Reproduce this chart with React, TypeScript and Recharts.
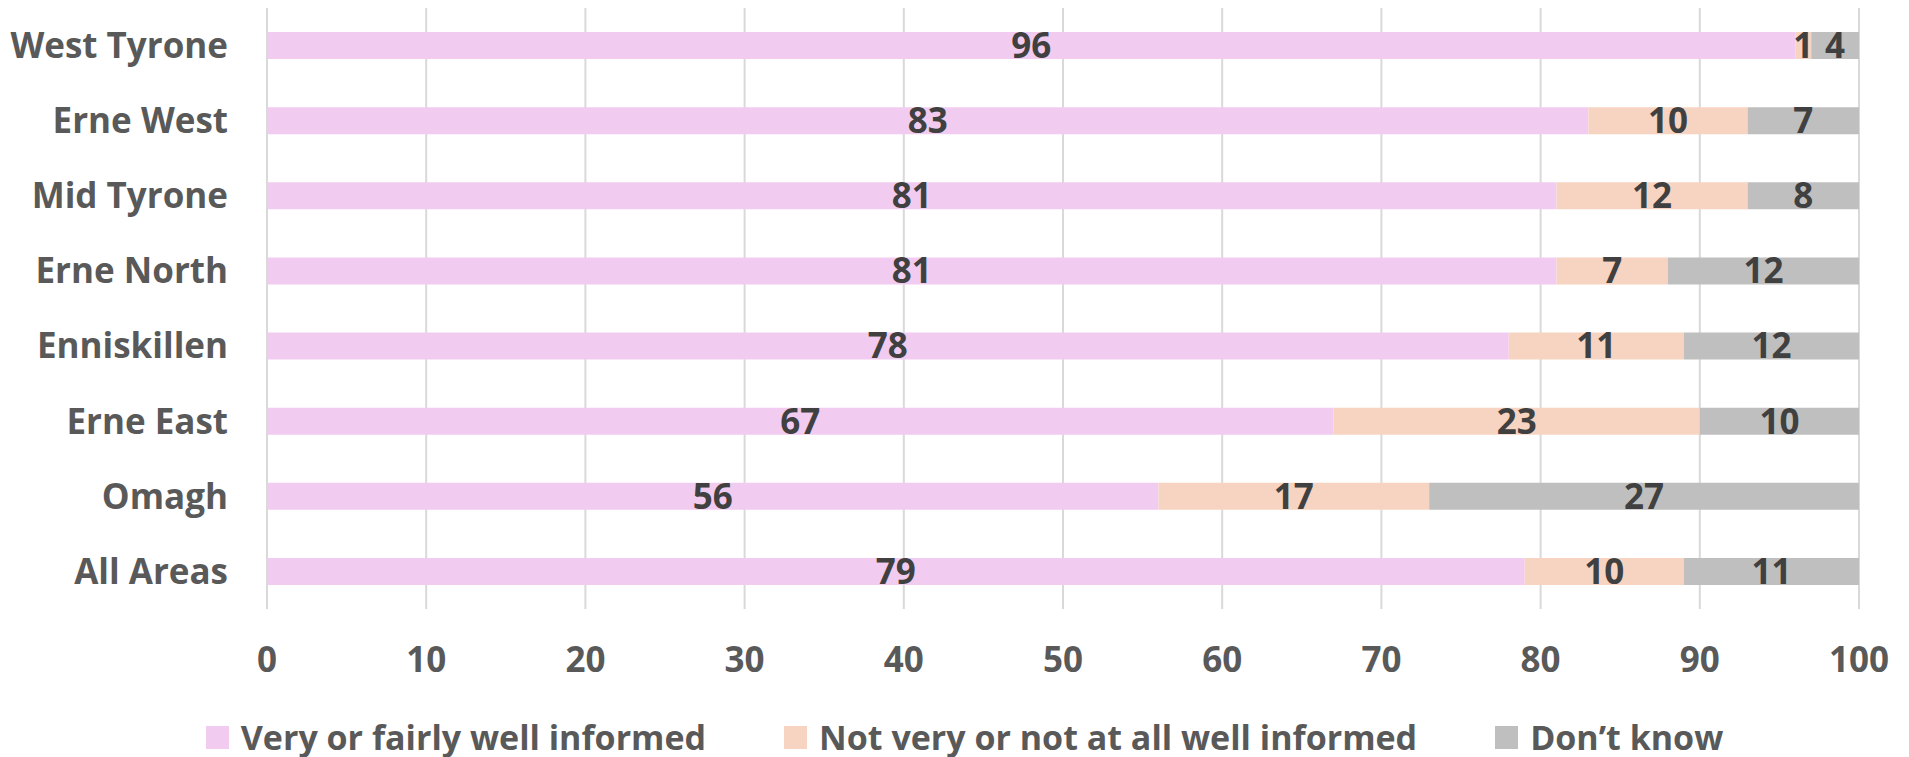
import React from "react";
import {
  Bar,
  BarChart,
  CartesianGrid,
  LabelList,
  Legend,
  XAxis,
  YAxis,
} from "recharts";

const areas = [
  "West Tyrone",
  "Erne West",
  "Mid Tyrone",
  "Erne North",
  "Enniskillen",
  "Erne East",
  "Omagh",
  "All Areas",
];
const wellInformed = [96, 83, 81, 81, 78, 67, 56, 79];
const notWellInformed = [1, 10, 12, 7, 11, 23, 17, 10];
const dontKnow = [4, 7, 8, 12, 12, 10, 27, 11];
const xTicks = [0, 10, 20, 30, 40, 50, 60, 70, 80, 90, 100];

const seriesInfo = [
  { key: "well", name: "Very or fairly well informed", color: "#F2CCF0" },
  { key: "notWell", name: "Not very or not at all well informed", color: "#F7D4C1" },
  { key: "dontKnow", name: "Don\u2019t know", color: "#BFBFBF" },
];

const data = areas.map((area, i) => ({
  area,
  well: wellInformed[i],
  notWell: notWellInformed[i],
  dontKnow: dontKnow[i],
}));

const font = "'Open Sans', sans-serif";
const axisColor = "#595959";
const labelColor = "#404040";

function ChartLegend() {
  return (
    <div
      style={{
        display: "flex",
        justifyContent: "center",
        alignItems: "center",
        gap: 78,
        height: 40,
        fontFamily: font,
        fontWeight: 700,
        fontSize: 34,
        color: axisColor,
        paddingLeft: 70,
      }}
    >
      {seriesInfo.map((s) => (
        <div key={s.key} style={{ display: "flex", alignItems: "center" }}>
          <span
            style={{
              display: "inline-block",
              width: 23,
              height: 23,
              background: s.color,
              marginRight: 12,
            }}
          />
          <span style={{ lineHeight: "40px" }}>{s.name}</span>
        </div>
      ))}
    </div>
  );
}

export default function App() {
  return (
    <div style={{ position: "absolute", left: 0, top: 0, background: "#fff" }}>
      <BarChart
        width={1909}
        height={757}
        data={data}
        layout="vertical"
        margin={{ top: 8, right: 50, bottom: 0, left: 0 }}
        barSize={27}
      >
        <CartesianGrid
          horizontal={false}
          stroke="#D9D9D9"
          strokeWidth={2}
        />
        <XAxis
          type="number"
          domain={[0, 100]}
          ticks={xTicks}
          allowDataOverflow
          axisLine={false}
          tickLine={false}
          tickSize={0}
          tickMargin={38}
          height={108}
          interval={0}
          tick={{
            fill: axisColor,
            fontFamily: font,
            fontWeight: 700,
            fontSize: 35,
          }}
        />
        <YAxis
          type="category"
          dataKey="area"
          width={267}
          axisLine={false}
          tickLine={false}
          tickSize={0}
          tickMargin={39}
          interval={0}
          tick={{
            fill: axisColor,
            fontFamily: font,
            fontWeight: 700,
            fontSize: 35,
          }}
        />
        <Legend verticalAlign="bottom" content={() => <ChartLegend />} />
        {seriesInfo.map((s) => (
          <Bar
            key={s.key}
            dataKey={s.key}
            name={s.name}
            stackId="a"
            fill={s.color}
            isAnimationActive={false}
          >
            <LabelList
              dataKey={s.key}
              position="center"
              fill={labelColor}
              style={{
                fontFamily: font,
                fontWeight: 700,
                fontSize: 35,
              }}
            />
          </Bar>
        ))}
      </BarChart>
    </div>
  );
}
